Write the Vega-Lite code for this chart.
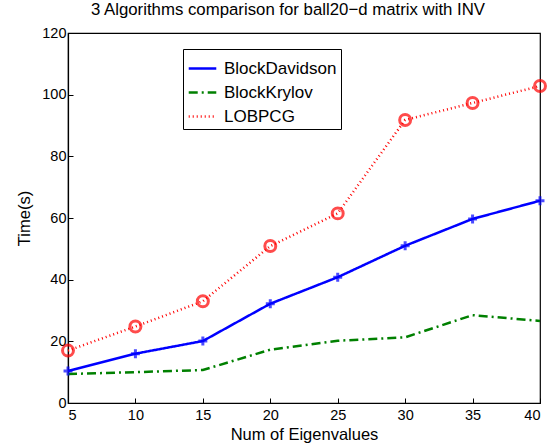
{
  "$schema": "https://vega.github.io/schema/vega-lite/v6.json",
  "autosize": "none",
  "width": 472,
  "height": 370,
  "padding": {"left": 68, "top": 33, "right": 8, "bottom": 45},
  "background": "white",
  "title": {"text": "3 Algorithms comparison for ball20\u2212d matrix with INV", "font": "Liberation Sans", "fontSize": 16.8, "fontWeight": "normal", "color": "black", "anchor": "middle", "offset": 6, "dx": -16},
  "config": {
    "view": {"stroke": "black", "strokeWidth": 1.2},
    "axis": {"labelFont": "Liberation Sans", "labelFontSize": 14.5, "labelColor": "black", "titleFont": "Liberation Sans", "titleFontSize": 16.5, "titleFontWeight": "normal", "titleColor": "black", "grid": false, "domainColor": "black", "tickColor": "black", "tickSize": -5, "domainWidth": 1.2},
    "legend": {"labelFont": "Liberation Sans", "labelFontSize": 17, "labelColor": "black", "symbolType": "stroke", "symbolSize": 760, "rowPadding": -5, "labelOffset": 6, "padding": 4, "strokeColor": "black", "fillColor": "white"}
  },
  "data": {"values": [
    {"n": 5, "series": "BlockDavidson", "t": 10.4},
    {"n": 10, "series": "BlockDavidson", "t": 16.0},
    {"n": 15, "series": "BlockDavidson", "t": 20.1},
    {"n": 20, "series": "BlockDavidson", "t": 32.2},
    {"n": 25, "series": "BlockDavidson", "t": 40.8},
    {"n": 30, "series": "BlockDavidson", "t": 51.0},
    {"n": 35, "series": "BlockDavidson", "t": 59.7},
    {"n": 40, "series": "BlockDavidson", "t": 65.6},
    {"n": 5, "series": "BlockKrylov", "t": 9.4},
    {"n": 10, "series": "BlockKrylov", "t": 10.0},
    {"n": 15, "series": "BlockKrylov", "t": 10.7},
    {"n": 20, "series": "BlockKrylov", "t": 17.3},
    {"n": 25, "series": "BlockKrylov", "t": 20.2},
    {"n": 30, "series": "BlockKrylov", "t": 21.3},
    {"n": 35, "series": "BlockKrylov", "t": 28.5},
    {"n": 40, "series": "BlockKrylov", "t": 26.6},
    {"n": 5, "series": "LOBPCG", "t": 17.0},
    {"n": 10, "series": "LOBPCG", "t": 24.8},
    {"n": 15, "series": "LOBPCG", "t": 33.0},
    {"n": 20, "series": "LOBPCG", "t": 50.9},
    {"n": 25, "series": "LOBPCG", "t": 61.5},
    {"n": 30, "series": "LOBPCG", "t": 91.8},
    {"n": 35, "series": "LOBPCG", "t": 97.3},
    {"n": 40, "series": "LOBPCG", "t": 102.8}
  ]},
  "layer": [
    {
      "mark": {"type": "line", "clip": false},
      "encoding": {
        "x": {"field": "n", "type": "quantitative", "scale": {"domain": [5, 40], "nice": false, "zero": false}, "axis": {"title": "Num of Eigenvalues", "values": [5, 10, 15, 20, 25, 30, 35, 40], "labelPadding": 10, "titlePadding": 5}},
        "y": {"field": "t", "type": "quantitative", "scale": {"domain": [0, 120], "nice": false}, "axis": {"title": "Time(s)", "values": [0, 20, 40, 60, 80, 100, 120], "labelPadding": 7, "titlePadding": 9}},
        "color": {"field": "series", "type": "nominal", "scale": {"domain": ["BlockDavidson", "BlockKrylov", "LOBPCG"], "range": ["#0000ff", "#008000", "#ff0000"]},
          "legend": {"title": null, "orient": "none", "legendX": 115, "legendY": 16}},
        "strokeDash": {"field": "series", "type": "nominal", "scale": {"domain": ["BlockDavidson", "BlockKrylov", "LOBPCG"], "range": [[1, 0], [9, 4, 2, 4], [1, 3]]}},
        "strokeWidth": {"field": "series", "type": "nominal", "scale": {"domain": ["BlockDavidson", "BlockKrylov", "LOBPCG"], "range": [2.5, 2.5, 1]}}
      }
    },
    {
      "transform": [{"filter": "datum.series !== 'BlockKrylov'"}],
      "mark": {"type": "point", "filled": false, "strokeWidth": 3, "clip": false},
      "encoding": {
        "x": {"field": "n", "type": "quantitative"},
        "y": {"field": "t", "type": "quantitative"},
        "color": {"field": "series", "type": "nominal", "legend": null},
        "shape": {"field": "series", "type": "nominal", "scale": {"domain": ["BlockDavidson", "LOBPCG"], "range": ["M-1,0H1M0,-1V1", "circle"]}, "legend": null},
        "size": {"field": "series", "type": "nominal", "scale": {"domain": ["BlockDavidson", "LOBPCG"], "range": [80, 120]}, "legend": null}
      }
    }
  ]
}
